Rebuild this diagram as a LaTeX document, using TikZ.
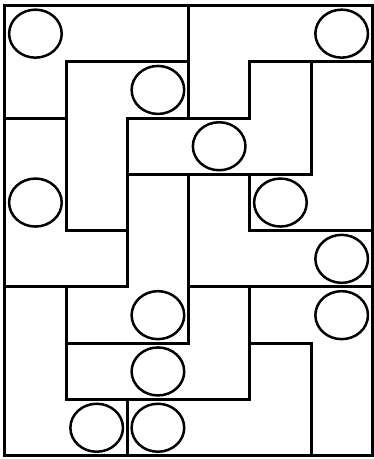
\documentclass[tikz,border=0pt]{standalone}
\begin{document}
\begin{tikzpicture}[
  wall/.style={line width=3pt, line cap=rect},
  ring/.style={line width=2.5pt},
]
\useasboundingbox (0pt,0pt) rectangle (374pt,459pt);
\begin{scope}[shift={(4.8pt,453.5pt)}, x=61.25pt, y=-56.3pt]
  % outer border
  \draw[wall] (0,0) rectangle (6,8);
  % horizontal walls
  \draw[wall] (1,1) -- (3,1);  \draw[wall] (4,1) -- (6,1);
  \draw[wall] (0,2) -- (1,2);  \draw[wall] (2,2) -- (4,2);
  \draw[wall] (2,3) -- (5,3);
  \draw[wall] (1,4) -- (2,4);  \draw[wall] (4,4) -- (6,4);
  \draw[wall] (0,5) -- (2,5);  \draw[wall] (3,5) -- (6,5);
  \draw[wall] (1,6) -- (3,6);  \draw[wall] (4,6) -- (5,6);
  \draw[wall] (1,7) -- (4,7);
  % vertical walls
  \draw[wall] (1,1) -- (1,4);  \draw[wall] (1,5) -- (1,7);
  \draw[wall] (2,2) -- (2,5);  \draw[wall] (2,7) -- (2,8);
  \draw[wall] (3,0) -- (3,2);  \draw[wall] (3,3) -- (3,6);
  \draw[wall] (4,1) -- (4,2);  \draw[wall] (4,3) -- (4,4);  \draw[wall] (4,5) -- (4,7);
  \draw[wall] (5,1) -- (5,3);  \draw[wall] (5,6) -- (5,8);
  % circles
  \foreach \cx/\cy in {0/0, 2/1, 5/0, 3/2, 0/3, 4/3, 5/4, 2/5, 5/5, 2/6, 1/7, 2/7}
    \draw[ring] (\cx+0.5,\cy+0.5) ellipse [x radius=26.3pt, y radius=24pt];
\end{scope}
\end{tikzpicture}
\end{document}
